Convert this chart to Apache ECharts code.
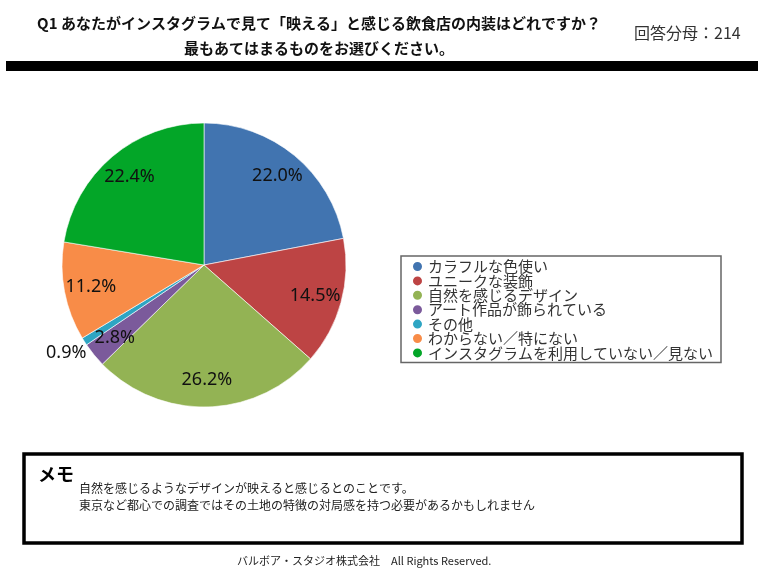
<!DOCTYPE html>
<html>
<head>
<meta charset="utf-8">
<script src="https://cdn.jsdelivr.net/npm/echarts@6/dist/echarts.min.js"></script>
<style>
  html, body { margin: 0; padding: 0; background: #fff; }
  #myChart { width: 772px; height: 580px; }
</style>
</head>
<body>
<div id="myChart"></div>
<script>
// answers (legend order = clockwise from 12 o'clock)
var categories = [
  'カラフルな色使い',
  'ユニークな装飾',
  '自然を感じるデザイン',
  'アート作品が飾られている',
  'その他',
  'わからない／特にない',
  'インスタグラムを利用していない／見ない'
];
var percents = [22.0, 14.5, 26.2, 2.8, 0.9, 11.2, 22.4];
var colors = ['#4174b0', '#bd4444', '#93b354', '#7b5a9b', '#2ea5c3', '#f88c48', '#03a628'];

var titleLine1 = 'Q1 あなたがインスタグラムで見て「映える」と感じる飲食店の内装はどれですか？';
var titleLine2 = '最もあてはまるものをお選びください。';
var sampleText = '回答分母：214';
var memoLines = [
  '自然を感じるようなデザインが映えると感じるとのことです。',
  '東京など都心での調査ではその土地の特徴の対局感を持つ必要があるかもしれません'
];
var footer = 'バルボア・スタジオ株式会社　All Rights Reserved.';

var jp = '"Noto Sans CJK JP", "Noto Sans", sans-serif';
var R = 142;

var pieData = categories.map(function(name, i){
  return { name: name, value: percents[i], itemStyle: { color: colors[i] } };
});
// transparent rings that only carry the labels: big slices near the rim, tiny ones just outside
function labelRing(small){
  return categories.map(function(name, i){
    return { name: name, value: percents[i], label: { show: (percents[i] < 1) === small } };
  });
}
function labelSeries(r0, r1, data){
  return {
    type: 'pie',
    center: [204, 265],
    radius: [r0, r1],
    startAngle: 90,
    clockwise: true,
    silent: true,
    itemStyle: { color: 'rgba(0,0,0,0)', borderWidth: 0 },
    label: {
      position: 'inside',
      fontFamily: '"Noto Sans", sans-serif',
      fontSize: 18,
      color: '#111',
      formatter: function(p){ return p.value.toFixed(1) + '%'; }
    },
    labelLine: { show: false },
    data: data
  };
}

var option = {
  animation: false,
  backgroundColor: '#fff',
  title: [
    {
      text: titleLine1 + '\n' + titleLine2,
      left: 314, top: 6, textAlign: 'center',
      textStyle: { fontFamily: jp, fontSize: 15, fontWeight: 'bold', color: '#111', lineHeight: 25, align: 'center' }
    },
    {
      text: sampleText,
      left: 629, top: 20,
      textStyle: { fontFamily: jp, fontSize: 16, fontWeight: 'normal', color: '#333' }
    }
  ],
  legend: {
    orient: 'vertical',
    left: 401, top: 256,
    data: categories,
    icon: 'circle',
    itemWidth: 11, itemHeight: 11,
    itemGap: -0.6,
    padding: [3, 8, 2, 10],
    borderColor: '#666', borderWidth: 1.5,
    selectedMode: false,
    textStyle: { fontFamily: jp, fontSize: 15, color: '#333', lineHeight: 14 }
  },
  graphic: [
    { type: 'rect', shape: { x: 6, y: 61, width: 752, height: 10 }, style: { fill: '#000' } },
    { type: 'rect', shape: { x: 24, y: 454, width: 718, height: 89 }, style: { fill: 'none', stroke: '#000', lineWidth: 3.5 } },
    { type: 'text', left: 38, top: 465, style: { text: 'メモ', font: 'bold 18px ' + jp, fill: '#000' } },
    { type: 'text', left: 79, top: 480, style: { text: memoLines.join('\n'), font: '12px ' + jp, lineHeight: 17, fill: '#222' } },
    { type: 'text', left: 237, top: 555, style: { text: footer, font: '11px ' + jp, fill: '#222' } }
  ],
  series: [
    {
      type: 'pie',
      center: [204, 265],
      radius: [0, R],
      startAngle: 90,
      clockwise: true,
      silent: true,
      label: { show: false },
      labelLine: { show: false },
      itemStyle: { borderColor: '#fff', borderWidth: 0.6 },
      data: pieData
    },
    labelSeries(R * 0.58, R, labelRing(false)),
    labelSeries(R, R * 1.26, labelRing(true))
  ]
};

var myChart = echarts.init(document.getElementById('myChart'));
myChart.setOption(option);
</script>
</body>
</html>
